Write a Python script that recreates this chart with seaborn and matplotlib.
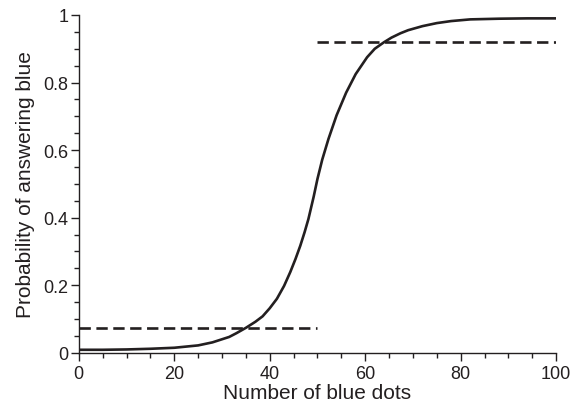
import matplotlib
matplotlib.use("Agg")
import matplotlib.pyplot as plt
import seaborn as sns
import pandas as pd
from matplotlib.ticker import MultipleLocator, FuncFormatter

# Curve values
curve_x = [0, 5, 10, 15, 20, 25, 28, 31.5, 33, 35, 37, 38.5, 40, 41.5, 43, 44.3, 45.4,
           46.4, 47.3, 48.1, 49.2, 50.0, 51.0, 52.3, 54.0, 56.0, 58.0, 60.4, 62.0,
           63.9, 65.5, 67.4, 69, 72, 75, 78, 82, 88, 94, 100]
curve_y = [0.009, 0.009, 0.010, 0.012, 0.015, 0.022, 0.031, 0.047, 0.058, 0.074, 0.092,
           0.108, 0.132, 0.160, 0.198, 0.239, 0.278, 0.317, 0.357, 0.396, 0.462, 0.515,
           0.572, 0.633, 0.703, 0.770, 0.825, 0.875, 0.900, 0.919, 0.933, 0.946, 0.955,
           0.967, 0.976, 0.982, 0.987, 0.989, 0.990, 0.990]

# Dashed reference levels
low_x = [0, 50]
low_y = [0.074, 0.074]
high_x = [50, 100]
high_y = [0.919, 0.919]

x_ticks = [0, 20, 40, 60, 80, 100]
y_ticks = [0, 0.2, 0.4, 0.6, 0.8, 1.0]

sns.set_style("ticks")
plt.rcParams['font.family'] = ['Liberation Sans', 'DejaVu Sans']

ink = '#231f20'
fig = plt.figure(figsize=(5.71, 4.10), dpi=100)
ax = fig.add_axes([0.138, 0.137, 0.836, 0.824])

df_curve = pd.DataFrame({"x": curve_x, "y": curve_y})
df_low = pd.DataFrame({"x": low_x, "y": low_y})
df_high = pd.DataFrame({"x": high_x, "y": high_y})

sns.lineplot(data=df_curve, x="x", y="y", ax=ax, color=ink, linewidth=1.9,
             estimator=None, sort=False)
for d in (df_low, df_high):
    sns.lineplot(data=d, x="x", y="y", ax=ax, color=ink, linewidth=1.9,
                 estimator=None, sort=False, linestyle=(0, (4.3, 2.1)))
for line in ax.lines:
    line.set_solid_joinstyle('round')

ax.set_xlim(0, 100)
ax.set_ylim(0, 1)
ax.set_xticks(x_ticks)
ax.set_yticks(y_ticks)
ax.xaxis.set_minor_locator(MultipleLocator(5))
ax.yaxis.set_minor_locator(MultipleLocator(0.05))
ax.yaxis.set_major_formatter(FuncFormatter(lambda v, p: f"{v:g}"))

ax.tick_params(which='major', direction='out', length=5.5, width=1.0, color=ink,
               labelsize=13, labelcolor=ink)
ax.tick_params(axis='y', which='major', pad=2)
ax.tick_params(axis='x', which='major', pad=3)
ax.tick_params(which='minor', direction='out', length=3.5, width=1.0, color=ink)

for s in ('top', 'right'):
    ax.spines[s].set_visible(False)
for s in ('left', 'bottom'):
    ax.spines[s].set_linewidth(1.0)
    ax.spines[s].set_color(ink)

ax.set_xlabel("Number of blue dots", fontsize=15, color=ink, labelpad=1)
ax.set_ylabel("Probability of answering blue", fontsize=15, color=ink, labelpad=6)

fig.savefig("out.png", dpi=100, facecolor="white")
